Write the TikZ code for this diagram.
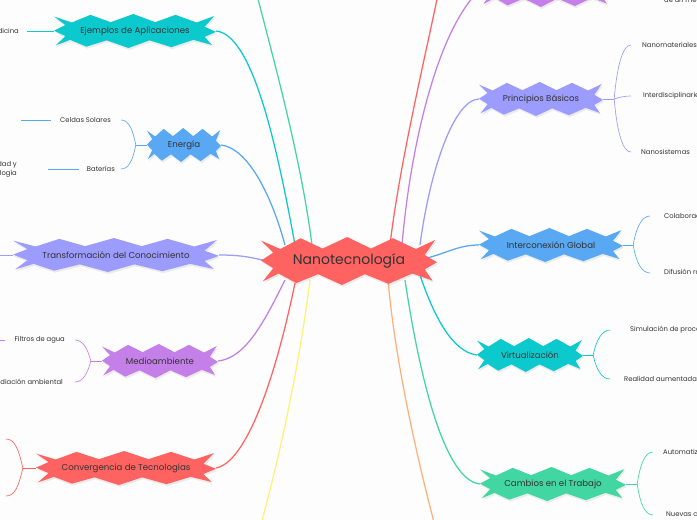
\documentclass[tikz,border=0pt]{standalone}
\usepackage{fontspec}
\setmainfont{Poppins}
\usetikzlibrary{calc}
\definecolor{cRed}{HTML}{FF6361}
\definecolor{cCyan}{HTML}{0BC9CD}
\definecolor{cBlue}{HTML}{58A8F4}
\definecolor{cPeri}{HTML}{9C9CFF}
\definecolor{cPurple}{HTML}{C57FE8}
\definecolor{cGreen}{HTML}{41D6A2}
\definecolor{cYellow}{HTML}{FFF176}
\definecolor{cOrange}{HTML}{FFB07A}
\definecolor{txtc}{HTML}{333333}
\definecolor{bgc}{HTML}{FDFDFD}
\pgfdeclarelayer{bg}
\pgfsetlayers{bg,main}
\newcommand\burstpath{(-1.00,-0.85) -- (-0.78,-0.50) -- (-0.55,-0.95) -- (-0.30,-0.52) -- (-0.02,-1.00) -- (0.25,-0.52) -- (0.50,-0.95) -- (0.76,-0.50) -- (0.98,-0.88) -- (0.86,-0.25) -- (1.00,0.05) -- (0.86,0.35) -- (0.95,0.82) -- (0.72,0.52) -- (0.45,0.95) -- (0.18,0.55) -- (-0.08,1.00) -- (-0.35,0.55) -- (-0.60,0.92) -- (-0.80,0.52) -- (-0.98,0.85) -- (-0.86,0.30) -- (-1.00,-0.02) -- (-0.86,-0.35) -- cycle}
% name, x, y, w, h, colour, text
\newcommand\burst[7]{%
  \begin{scope}[shift={(#2+1,#3+2)},xscale=#4/2,yscale=#5/2]
    \fill[black,opacity=0.07] \burstpath;
  \end{scope}
  \begin{scope}[shift={(#2,#3)},xscale=#4/2,yscale=#5/2]
    \fill[#6] \burstpath;
  \end{scope}
  \node[text=txtc,inner sep=0pt,minimum width=#4pt,minimum height=#5pt,
        font=\fontsize{8.6}{10}\selectfont] (#1) at (#2,#3) {#7};
}
\begin{document}
\begin{tikzpicture}[x=1pt,y=-1pt,
  txt/.style={text=txtc,inner sep=0pt,font=\fontsize{6.8}{8.8}\selectfont},
  conn/.style={line width=1.25pt},
  sub/.style={line width=0.65pt}]
\useasboundingbox (0,0) rectangle (697,520);
\begin{pgfonlayer}{bg}
\fill[bgc] (0,0) rectangle (697,520);
\end{pgfonlayer}
\clip (0,0) rectangle (697,520);

% main and branch nodes
\burst{main}{349}{261}{176}{48}{cRed}{\fontsize{14}{16}\selectfont Nanotecnología}
\burst{ej}{135}{31}{162}{34}{cCyan}{Ejemplos de Aplicaciones}
\burst{en}{184}{145}{74}{34}{cBlue}{Energía}
\burst{tr}{116}{255}{206}{34}{cPeri}{Transformación del Conocimiento}
\burst{me}{160}{361}{116}{34}{cPurple}{Medioambiente}
\burst{co}{126}{468}{180}{34}{cRed}{Convergencia de Tecnologías}
\burst{tp}{546}{-12}{128}{38}{cPurple}{}
\burst{pr}{541}{99}{124}{34}{cPeri}{Principios Básicos}
\burst{ig}{551}{245}{144}{34}{cBlue}{Interconexión Global}
\burst{vi}{530}{355}{106}{34}{cCyan}{Virtualización}
\burst{ca}{553}{484}{146}{34}{cGreen}{Cambios en el Trabajo}

% child texts
\node[txt,anchor=east] (med) at (19,31) {Medicina};
\node[txt,anchor=east] (cs) at (111,120) {Celdas Solares};
\node[txt,anchor=east] (bat) at (115,169) {Baterías};
\node[txt,anchor=east,align=right] (dur) at (17,169) {Durabilidad y\\Tecnología};
\node[txt,anchor=east] (fil) at (65,340) {Filtros de agua};
\node[txt,anchor=east] (rem) at (63,382) {Remediación ambiental};
\node[txt,anchor=west] (nm) at (642,45) {Nanomateriales};
\node[txt,anchor=west] (inter) at (643,96) {Interdisciplinariedad};
\node[txt,anchor=west] (ns) at (641,152) {Nanosistemas};
\node[txt,anchor=west] (col) at (664,216) {Colaboración internacional};
\node[txt,anchor=west] (dif) at (664,273) {Difusión rápida};
\node[txt,anchor=west] (sim) at (630,330) {Simulación de procesos};
\node[txt,anchor=west] (ra) at (624,379) {Realidad aumentada};
\node[txt,anchor=west] (aut) at (663,452) {Automatización};
\node[txt,anchor=west] (nc) at (666,515) {Nuevas competencias};
\node[txt,anchor=base west] (dum) at (664,2.5) {de un medio};

% free ends
\coordinate (csL) at (21,120);
\coordinate (trL) at (-10,255);
\coordinate (filL) at (-10,340);
\coordinate (coA) at (6,439);
\coordinate (coB) at (6,496);
\coordinate (gt) at (248,-40);
\coordinate (yb) at (255,545);
\coordinate (rt) at (442,-25);
\coordinate (ob) at (440,545);

\begin{pgfonlayer}{bg}
\clip (0,0) rectangle (697,520);
% main connectors, left
\draw[conn,cCyan] (ej.east) .. controls +(35,4) and +(-20,-110) .. ([shift={(-54,-16)}]main.center);
\draw[conn,cGreen] (gt) .. controls +(20,80) and +(-12,-95) .. ([shift={(-37,-16)}]main.center);
\draw[conn,cBlue] (en.east) .. controls +(25,3) and +(-15,-55) .. ([shift={(-64,-16)}]main.center);
\draw[conn,cPeri] (tr.east) .. controls +(25,0) and +(-20,-5) .. ([shift={(-75,2)}]main.center);
\draw[conn,cPurple] (me.east) .. controls +(28,-3) and +(-20,40) .. ([shift={(-64,19)}]main.center);
\draw[conn,cRed] (co.east) .. controls +(30,-6) and +(-20,97) .. ([shift={(-54,22)}]main.center);
\draw[conn,cYellow] ([shift={(-39,19)}]main.center) .. controls +(-10,80) and +(25,-85) .. (yb);
% main connectors, right
\draw[conn,cRed] ([shift={(41,-16)}]main.center) .. controls +(10,-85) and +(-15,75) .. (rt);
\draw[conn,cPurple] ([shift={(53,-16)}]main.center) .. controls +(8,-95) and +(-45,40) .. (tp.west);
\draw[conn,cPeri] (pr.west) .. controls +(-25,1) and +(10,-75) .. ([shift={(71,-16)}]main.center);
\draw[conn,cBlue] (ig.west) .. controls +(-20,0) and +(20,-5) .. ([shift={(78,-3)}]main.center);
\draw[conn,cCyan] (vi.west) .. controls +(-23,-3) and +(15,45) .. ([shift={(71,14)}]main.center);
\draw[conn,cGreen] (ca.west) .. controls +(-35,-4) and +(15,100) .. ([shift={(56,19)}]main.center);
\draw[conn,cOrange] ([shift={(39,19)}]main.center) .. controls +(7,80) and +(-23,-85) .. (ob);
\end{pgfonlayer}

% sub connectors
\draw[sub,cCyan] (ej.west) -- ([xshift=8]med.east);

\draw[sub,cBlue] (en.west) -- ++(-11,0) coordinate (enj);
\draw[sub,cBlue] (enj) .. controls +(-3,-15) and +(8,0) .. ([xshift=10]cs.east);
\draw[sub,cBlue] (enj) .. controls +(-3,15) and +(8,0) .. ([xshift=6]bat.east);
\draw[sub,cBlue] ([xshift=-9]cs.west) -- (csL);
\draw[sub,cBlue] ([xshift=-8]bat.west) -- ([xshift=31]dur.east);

\draw[sub,cPeri] (tr.west) -- (trL);

\draw[sub,cPurple] (me.west) -- ++(-11,0) coordinate (mej);
\draw[sub,cPurple] (mej) .. controls +(-3,-12) and +(8,0) .. ([xshift=10]fil.east);
\draw[sub,cPurple] (mej) .. controls +(-3,12) and +(8,0) .. ([xshift=12]rem.east);
\draw[sub,cPurple] ([xshift=-9]fil.west) -- (filL);

\draw[sub,cRed] (co.west) -- ++(-13,0) coordinate (coj);
\draw[sub,cRed] (coj) .. controls +(-4,-18) and +(9,0) .. (coA);
\draw[sub,cRed] (coj) .. controls +(-4,18) and +(9,0) .. (coB);

\draw[sub,cPeri] (pr.east) -- ++(11,0) coordinate (prj);
\draw[sub,cPeri] (prj) .. controls +(3,-35) and +(-8,0) .. ([xshift=-11]nm.west);
\draw[sub,cPeri] (prj) .. controls +(6,-2) and +(-6,0) .. ([xshift=-12]inter.west);
\draw[sub,cPeri] (prj) .. controls +(3,35) and +(-8,0) .. ([xshift=-10]ns.west);

\draw[sub,cBlue] (ig.east) -- ++(10,0) coordinate (igj);
\draw[sub,cBlue] (igj) .. controls +(3,-18) and +(-8,0) .. ([xshift=-14]col.west);
\draw[sub,cBlue] (igj) .. controls +(3,18) and +(-8,0) .. ([xshift=-14]dif.west);

\draw[sub,cCyan] (vi.east) -- ++(10,0) coordinate (vij);
\draw[sub,cCyan] (vij) .. controls +(3,-15) and +(-8,0) .. ([xshift=-20]sim.west);
\draw[sub,cCyan] (vij) .. controls +(3,15) and +(-8,0) .. ([xshift=-14]ra.west);

\draw[sub,cGreen] (ca.east) -- ++(11,0) coordinate (caj);
\draw[sub,cGreen] (caj) .. controls +(3,-20) and +(-8,0) .. ([xshift=-10]aut.west);
\draw[sub,cGreen] (caj) .. controls +(3,20) and +(-8,0) .. ([xshift=-13]nc.west);
\end{tikzpicture}
\end{document}
